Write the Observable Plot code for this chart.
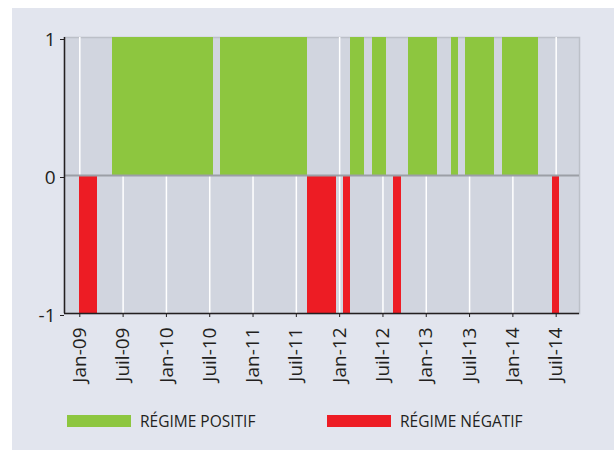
<!DOCTYPE html>
<html>
<head>
<meta charset="utf-8">
<script src="https://cdn.jsdelivr.net/npm/d3@7"></script>
<script src="https://cdn.jsdelivr.net/npm/@observablehq/plot@0.6"></script>
<style>
  html, body { margin: 0; padding: 0; background: #ffffff; }
  #wrap { position: relative; width: 614px; height: 450px; overflow: hidden; font-family: "Open Sans", sans-serif; }
  #panel { position: absolute; left: 12px; top: 8px; right: 0; bottom: 0; background: #e2e5ee; }
  #chart { position: absolute; left: 0; top: 0; }
  #legend { position: absolute; left: 0; top: 390px; width: 614px; height: 60px; }
  .item { position: absolute; top: 24px; height: 14px; display: flex; align-items: center; font-size: 15.5px; color: #231f20; white-space: nowrap; }
  .sw { width: 64px; height: 12px; margin-right: 9px; }
</style>
</head>
<body>
<div id="wrap">
  <div id="panel"></div>
  <div id="chart"></div>
  <div id="legend"></div>
</div>
<script>
// Monthly regime, starting Jan-09 (1 = positive, -1 = negative, 0 = neutral)
const startLabel = "Jan-09";
const regime = [
  -1, -1, -1, 0, 0,                         // Jan-09 .. May-09
  1, 1, 1, 1, 1, 1, 1, 1, 1, 1, 1, 1, 1, 1, // Jun-09 .. Jul-10
  0,                                        // Aug-10
  1, 1, 1, 1, 1, 1, 1, 1, 1, 1, 1, 1,       // Sep-10 .. Aug-11
  -1, -1, -1, -1,                           // Sep-11 .. Dec-11
  0, -1, 1, 1, 0, 1, 1, 0, -1, 0,           // Jan-12 .. Oct-12
  1, 1, 1, 1,                               // Nov-12 .. Feb-13
  0, 0, 1, 0,                               // Mar-13 .. Jun-13
  1, 1, 1, 1,                               // Jul-13 .. Oct-13
  0,                                        // Nov-13
  1, 1, 1, 1, 1,                            // Dec-13 .. Apr-14
  0, 0, -1                                  // May-14 .. Jul-14
];
const tickLabels = ["Jan-09","Juil-09","Jan-10","Juil-10","Jan-11","Juil-11","Jan-12","Juil-12","Jan-13","Juil-13","Jan-14","Juil-14"];
const yTicks = [-1, 0, 1];
const yTickLabels = ["-1", "0", "1"];
const legendLabels = ["RÉGIME POSITIF", "RÉGIME NÉGATIF"];
const colors = { pos: "#8dc63f", neg: "#ed1c24" };

const data = regime.map((v, i) => ({ i, v })).filter(d => d.v !== 0);
const tickPos = tickLabels.map((_, k) => k * 6);

const plot = Plot.plot({
  width: 614,
  height: 390,
  marginLeft: 64,
  marginRight: 35,
  marginTop: 37,
  marginBottom: 77,
  style: { background: "transparent", fontFamily: "'Open Sans', sans-serif", fontSize: "16px", color: "#231f20" },
  x: { domain: [-2.12, 69.23], axis: null },
  y: { domain: [-1, 1], axis: null },
  marks: [
    Plot.frame({ fill: "#d1d5df", stroke: "#bcc0c8", strokeWidth: 1.5 }),
    Plot.ruleX(tickPos, { stroke: "#ffffff", strokeWidth: 1.5 }),
    Plot.rectY(data, {
      x1: d => Math.max(d.i - 0.5, 0),
      x2: d => d.i + 0.5,
      y1: 0,
      y2: d => d.v,
      fill: d => d.v > 0 ? colors.pos : colors.neg,
      shapeRendering: "crispEdges"
    }),
    Plot.ruleY([0], { stroke: "#9c9fa6", strokeWidth: 2 }),
    Plot.axisY(yTicks, {
      tickSize: 4, tickPadding: 5, fontSize: 19, stroke: "#231f20", dy: 2,
      tickFormat: (d) => yTickLabels[yTicks.indexOf(d)]
    }),
    Plot.ruleX([-2.12], { stroke: "#231f20", strokeWidth: 1.5 }),
    Plot.ruleY([-1], { stroke: "#231f20", strokeWidth: 1.5 }),
    Plot.axisX(tickPos, {
      tickSize: 4, tickPadding: 10, tickRotate: -90, fontSize: 19, stroke: "#231f20",
      tickFormat: (d, k) => tickLabels[k]
    })
  ]
});
document.getElementById("chart").appendChild(plot);

const legend = document.getElementById("legend");
[[legendLabels[0], colors.pos, 67], [legendLabels[1], colors.neg, 327]].forEach(([t, c, x]) => {
  const it = document.createElement("div");
  it.className = "item";
  it.style.left = x + "px";
  const sw = document.createElement("div");
  sw.className = "sw";
  sw.style.background = c;
  const tx = document.createElement("span");
  tx.textContent = t;
  it.appendChild(sw); it.appendChild(tx);
  legend.appendChild(it);
});
</script>
</body>
</html>
